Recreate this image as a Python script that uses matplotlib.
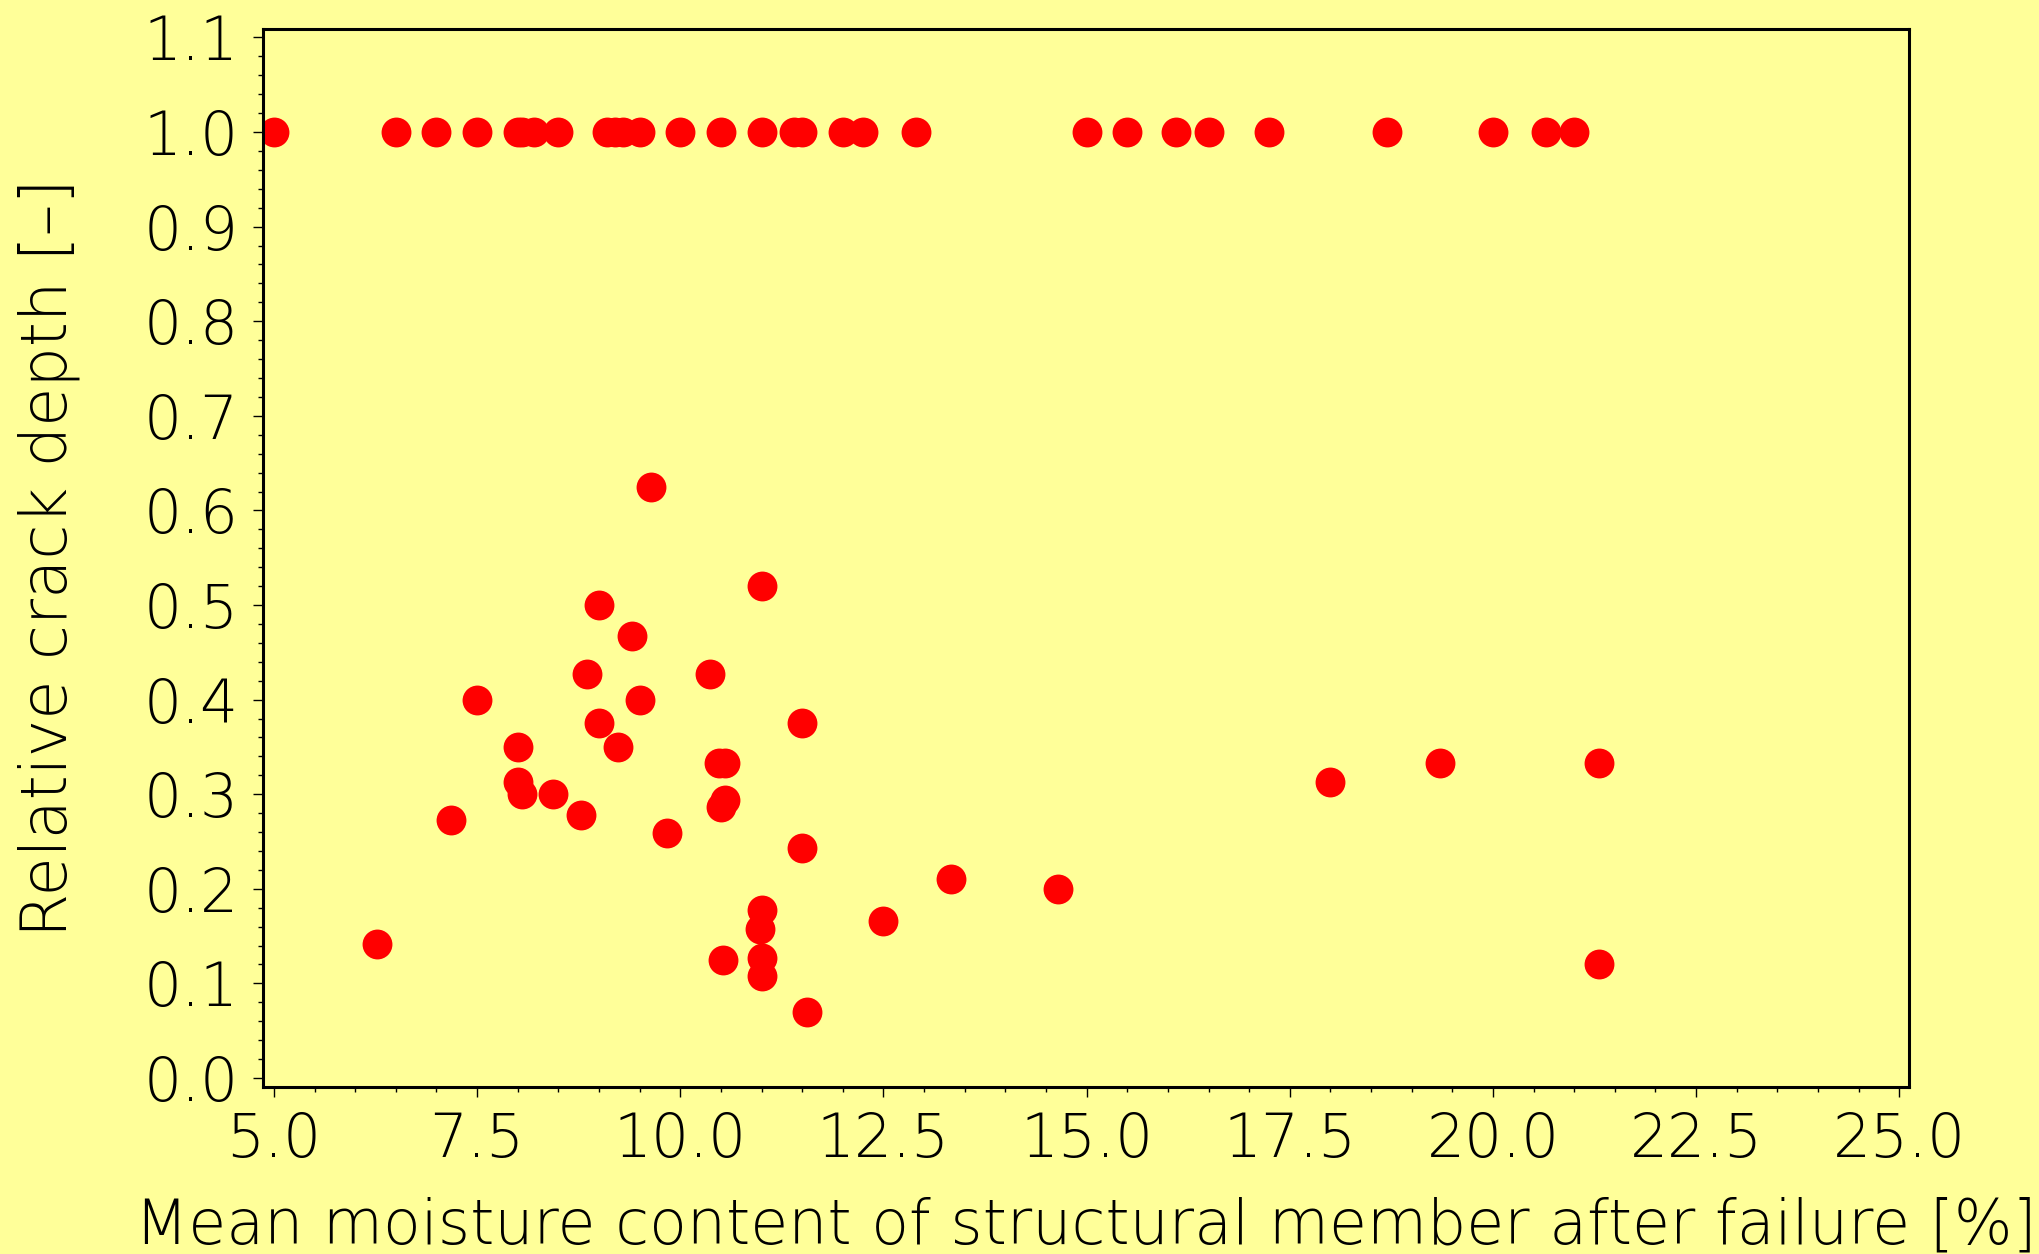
import numpy as np
import matplotlib
matplotlib.use("Agg")
import matplotlib.pyplot as plt
from matplotlib.ticker import MultipleLocator, FormatStrFormatter

# failures where the crack went through the whole section
full_x = [5.0, 6.5, 7.0, 7.5, 8.0, 8.05, 8.2, 8.5, 9.1, 9.2, 9.3, 9.5, 10.0,
          10.5, 11.0, 11.4, 11.5, 12.0, 12.25, 12.9, 15.0, 15.5, 16.1, 16.5,
          17.25, 18.7, 20.0, 20.65, 21.0]
full_y = [1.0] * len(full_x)

# partial cracks
part_x = [9.64, 11.0, 9.0, 9.4, 8.85, 10.36, 7.5, 9.5, 9.0, 11.5, 8.0, 9.23,
          10.48, 10.55, 8.0, 8.05, 8.43, 10.55, 10.5, 7.18, 8.78, 9.84, 11.5,
          13.33, 14.65, 11.0, 10.98, 12.5, 6.27, 10.53, 11.0, 11.0, 11.56,
          18.0, 19.35, 21.3, 21.3]
part_y = [0.625, 0.52, 0.5, 0.467, 0.427, 0.427, 0.4, 0.4, 0.375, 0.375, 0.35,
          0.35, 0.333, 0.333, 0.3125, 0.3, 0.3, 0.294, 0.286, 0.273, 0.278,
          0.259, 0.243, 0.21, 0.2, 0.178, 0.158, 0.166, 0.142, 0.125, 0.127,
          0.108, 0.07, 0.3125, 0.333, 0.333, 0.12]

bg = "#ffff99"
plt.rcParams["font.family"] = ["DejaVu Sans"]
plt.rcParams["font.weight"] = "ultralight"
plt.rcParams["axes.labelweight"] = "ultralight"

fig = plt.figure(figsize=(20.4, 12.54), dpi=100, facecolor=bg)
ax = fig.add_axes([0.1289, 0.1332, 0.8069, 0.8437], facecolor=bg)

x = np.array(full_x + part_x)
y = np.array(full_y + part_y)
ax.plot(x, y, "o", color="red", markersize=21.5, markeredgewidth=0)

ax.set_xlim(4.865, 25.12)
ax.set_ylim(-0.0095, 1.109)
ax.xaxis.set_major_locator(MultipleLocator(2.5))
ax.xaxis.set_minor_locator(MultipleLocator(0.5))
ax.yaxis.set_major_locator(MultipleLocator(0.1))
ax.yaxis.set_minor_locator(MultipleLocator(0.02))
ax.xaxis.set_major_formatter(FormatStrFormatter("%.1f"))
ax.yaxis.set_major_formatter(FormatStrFormatter("%.1f"))

for s in ax.spines.values():
    s.set_linewidth(2.2)
ax.tick_params(which="major", direction="out", length=7.5, width=1.0,
               labelsize=43, pad=10, colors="black")
ax.tick_params(which="minor", direction="out", length=3.8, width=1.0)

ax.set_xlabel("Mean moisture content of structural member after failure [%]",
              fontsize=44.5, labelpad=19, fontweight="ultralight")
ax.set_ylabel("Relative crack depth [–]", fontsize=46, labelpad=46,
              fontweight="ultralight")

fig.savefig("out.png", dpi=100, facecolor=bg)
